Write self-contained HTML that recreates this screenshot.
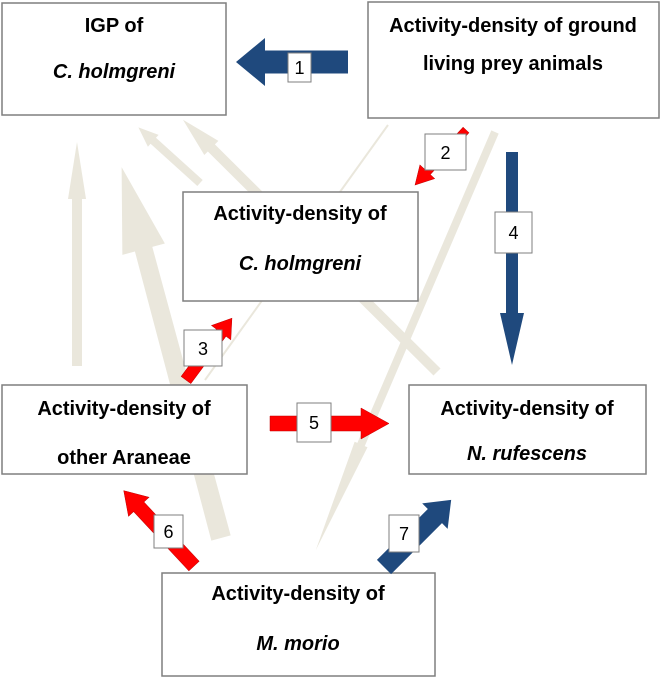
<!DOCTYPE html>
<html><head><meta charset="utf-8"><style>
html,body{margin:0;padding:0;background:#fff;}
svg{display:block;}
text{font-family:"Liberation Sans",sans-serif;}
.t{font-size:20px;font-weight:bold;text-anchor:middle;fill:#000;}
.i{font-style:italic;}
.n{font-size:18px;text-anchor:middle;fill:#000;}
.b{fill:#fff;stroke:#7f7f7f;stroke-width:1.5;}
.l{fill:#fff;stroke:#7f7f7f;stroke-width:1;}
.g{fill:#eae7dc;}
</style></head><body>
<svg width="661" height="678" viewBox="0 0 661 678" xmlns="http://www.w3.org/2000/svg">
<g class="g">
<g transform="translate(77,366) rotate(-90)"><polygon points="0,-5 167,-5 167,-9 224,0 167,9 167,5 0,5"/></g>
<g transform="translate(221,538) rotate(-105)"><polygon points="0,-10 299,-9 299,-22 384,0 299,22 299,9 0,10"/></g>
<g transform="translate(200,183) rotate(-137.9)"><polygon points="0,-4 63,-4 63,-8 83,0 63,8 63,4 0,4"/></g>
<g transform="translate(437,372) rotate(-135.2)"><polygon points="0,-5 318,-5 318,-10 358,0 318,10 318,5 0,5"/></g>
<g transform="translate(495,132) rotate(113.2)"><polygon points="0,-4 340,-4 340,-7 455,0 340,7 340,4 0,4"/></g>
</g>
<line x1="388" y1="125" x2="205" y2="380" stroke="#eae7dc" stroke-width="2"/>

<rect class="b" x="2" y="3" width="224" height="112"/>
<text class="t" x="114" y="32">IGP of</text>
<text class="t i" x="114" y="78">C. holmgreni</text>

<rect class="b" x="368" y="2" width="291" height="116"/>
<text class="t" x="513" y="32">Activity-density of ground</text>
<text class="t" x="513" y="70">living prey animals</text>

<rect class="b" x="183" y="192" width="235" height="109"/>
<text class="t" x="300" y="220">Activity-density of</text>
<text class="t i" x="300" y="270">C. holmgreni</text>

<rect class="b" x="2" y="385" width="245" height="89"/>
<text class="t" x="124" y="415">Activity-density of</text>
<text class="t" x="124" y="464">other Araneae</text>

<rect class="b" x="409" y="385" width="237" height="89"/>
<text class="t" x="527" y="415">Activity-density of</text>
<text class="t i" x="527" y="460">N. rufescens</text>

<rect class="b" x="162" y="573" width="273" height="103"/>
<text class="t" x="298" y="600">Activity-density of</text>
<text class="t i" x="298" y="650">M. morio</text>

<g fill="#1f497d">
<g transform="translate(348,62) rotate(180)"><polygon points="0,-11.5 83,-11.5 83,-24 112,0 83,24 83,11.5 0,11.5"/></g>
<g transform="translate(512,152) rotate(90)"><polygon points="0,-6 161,-6 161,-12 213,0 161,12 161,6 0,6"/></g>
<g transform="translate(384,567) rotate(-45)"><polygon points="0,-10 72,-10 72,-18 95,0 72,18 72,10 0,10"/></g>
</g>
<g fill="#ff0000" stroke="#c00000" stroke-width="0.5">
<g transform="translate(466,130) rotate(132.8)"><polygon points="0,-4 57,-4 57,-10 75,0 57,10 57,4 0,4"/></g>
<g transform="translate(186,380) rotate(-53.4)"><polygon points="0,-6 59,-6 59,-12 77,0 59,12 59,6 0,6"/></g>
<g transform="translate(270,423.5)"><polygon points="0,-7.5 91,-7.5 91,-15.5 119,0 91,15.5 91,7.5 0,7.5"/></g>
<g transform="translate(194,566) rotate(-133)"><polygon points="0,-7 81,-7 81,-14 103,0 81,14 81,7 0,7"/></g>
</g>

<rect class="l" x="288" y="53" width="23" height="29"/><text class="n" x="299.5" y="74">1</text>
<rect class="l" x="425" y="134" width="41" height="36"/><text class="n" x="445.5" y="159">2</text>
<rect class="l" x="184" y="330" width="38" height="36"/><text class="n" x="203" y="355">3</text>
<rect class="l" x="495" y="212" width="37" height="41"/><text class="n" x="513.5" y="239">4</text>
<rect class="l" x="297" y="403" width="34" height="39"/><text class="n" x="314" y="429">5</text>
<rect class="l" x="154" y="515" width="29" height="33"/><text class="n" x="168.5" y="538">6</text>
<rect class="l" x="389" y="515" width="30" height="37"/><text class="n" x="404" y="540">7</text>
</svg>
</body></html>
